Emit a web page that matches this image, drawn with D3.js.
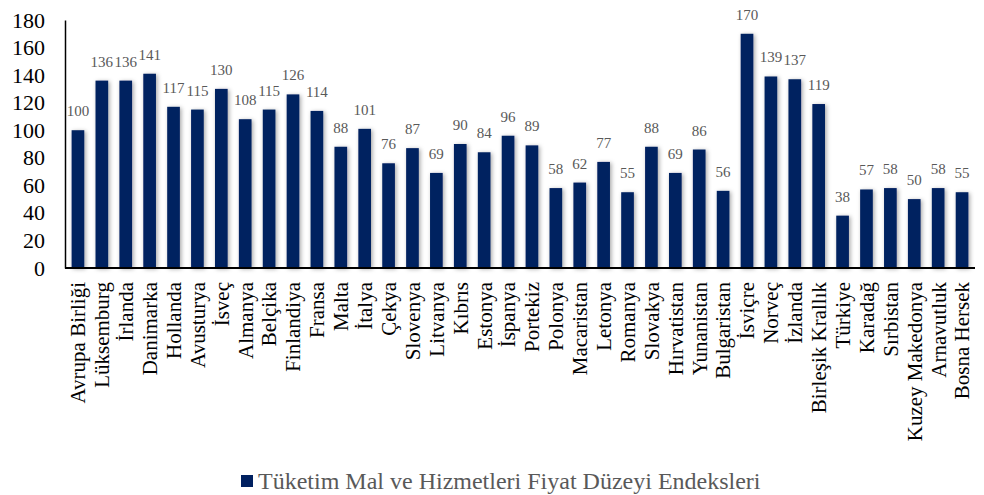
<!DOCTYPE html>
<html><head><meta charset="utf-8">
<script src="https://cdn.jsdelivr.net/npm/d3@7"></script>
<style>
body{margin:0;background:#fff}
svg{display:block}
svg text{font-family:"Liberation Serif","Times New Roman","DejaVu Serif",serif !important;}
</style>
</head><body>
<svg id="c" width="984" height="495"></svg>
<script>
const categories = ["Avrupa Birliği","Lüksemburg","İrlanda","Danimarka","Hollanda","Avusturya","İsveç","Almanya","Belçika","Finlandiya","Fransa","Malta","İtalya","Çekya","Slovenya","Litvanya","Kıbrıs","Estonya","İspanya","Portekiz","Polonya","Macaristan","Letonya","Romanya","Slovakya","Hırvatistan","Yunanistan","Bulgaristan","İsviçre","Norveç","İzlanda","Birleşik Krallık","Türkiye","Karadağ","Sırbistan","Kuzey Makedonya","Arnavutluk","Bosna Hersek"];
const values = [100,136,136,141,117,115,130,108,115,126,114,88,101,76,87,69,90,84,96,89,58,62,77,55,88,69,86,56,170,139,137,119,38,57,58,50,58,55];
const yTicks = [0,20,40,60,80,100,120,140,160,180];
const seriesName = "Tüketim Mal ve Hizmetleri Fiyat Düzeyi Endeksleri";

const svg = d3.select("#c");
const defs = svg.append("defs");
const f = defs.append("filter").attr("id","sh").attr("x","-50%").attr("y","-10%").attr("width","200%").attr("height","120%");
f.append("feDropShadow").attr("dx",1.5).attr("dy",1).attr("stdDeviation",2).attr("flood-color","#000").attr("flood-opacity",0.35);

const x = d3.scaleBand().domain(categories).range([66,974]).paddingInner(0.47).paddingOuter(0.235);
const y = d3.scaleLinear().domain([0,180]).range([268,20]);

svg.append("g").selectAll("rect").data(values).join("rect")
  .attr("x",(d,i)=>x(categories[i])).attr("width",x.bandwidth())
  .attr("y",d=>y(d)).attr("height",d=>y(0)-y(d))
  .attr("fill","#002060").attr("filter","url(#sh)");

svg.append("g").selectAll("text").data(values).join("text")
  .attr("x",(d,i)=>x(categories[i])+x.bandwidth()/2).attr("y",d=>y(d)-14)
  .attr("text-anchor","middle").attr("font-size",15).attr("fill","#595959")
  .text(d=>d);

const ya = svg.append("g").attr("transform","translate(65,0)")
  .call(d3.axisLeft(y).tickValues(yTicks).tickSize(0).tickPadding(20));
ya.select(".domain").attr("stroke","#000").attr("stroke-width",1.5);
ya.selectAll("text").attr("font-size",22).attr("fill","#000");

const xa = svg.append("g").attr("transform","translate(0,268)")
  .call(d3.axisBottom(x).tickSize(0).tickPadding(0));
xa.select(".domain").attr("d","M65,0H975").attr("stroke","#000").attr("stroke-width",2);
xa.selectAll("text").attr("font-size",21).attr("fill","#000")
  .attr("transform","rotate(-90)").attr("text-anchor","end").attr("dy","0.35em").attr("x",-14).attr("y",0);

const lg = svg.append("g");
lg.append("rect").attr("x",241).attr("y",475).attr("width",12).attr("height",12).attr("fill","#002060");
lg.append("text").attr("x",258).attr("y",489).attr("font-size",24).attr("fill","#595959").text(seriesName);
</script>
</body></html>
